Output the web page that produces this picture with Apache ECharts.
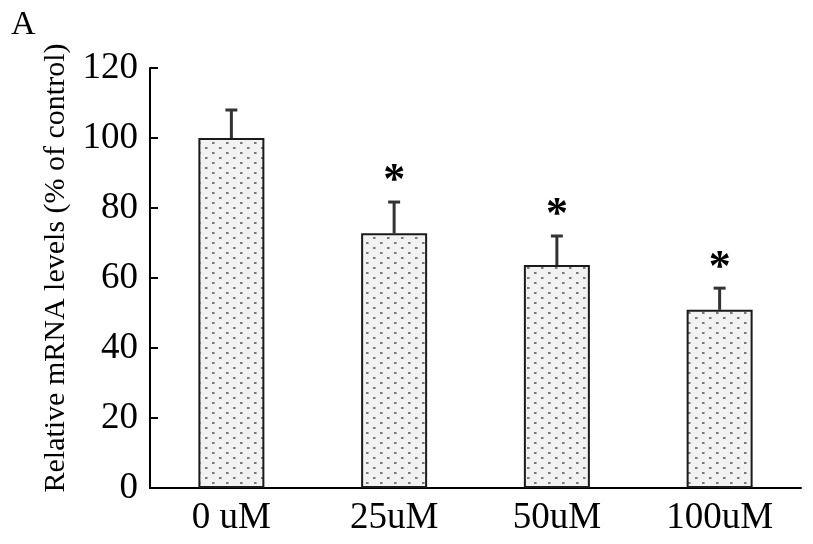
<!DOCTYPE html>
<html>
<head>
<meta charset="utf-8">
<script src="https://cdn.jsdelivr.net/npm/echarts@6/dist/echarts.min.js"></script>
<style>
html,body{margin:0;padding:0;background:#fff;}
#chart{width:813px;height:544px;}
</style>
</head>
<body>
<div id="chart"></div>
<script>
// ---- data ----
const categories = ['0 uM', '25uM', '50uM', '100uM'];
const means = [100, 72.8, 63.7, 50.9];
const errors = [8.0, 8.9, 8.3, 6.2];
const marks = ['', '*', '*', '*'];
const yAxisName = 'Relative mRNA levels (% of control)';
const panelLabel = 'A';

// ---- dotted fill pattern ----
const pc = document.createElement('canvas');
pc.width = 14; pc.height = 10;
const g = pc.getContext('2d');
g.fillStyle = '#f2f2f2';
g.fillRect(0, 0, 14, 10);
g.fillStyle = '#7a7a7a';
g.fillRect(2, 2, 2, 2);
g.fillRect(9, 7, 2, 2);
g.fillStyle = '#b0b0b0';
g.fillRect(4, 2, 1, 2);
g.fillRect(11, 7, 1, 2);

const serif = '"Liberation Serif", "Times New Roman", serif';
const chart = echarts.init(document.getElementById('chart'));

const errData = means.map((m, i) => [i, m, errors[i]]);

chart.setOption({
  animation: false,
  backgroundColor: '#fff',
  title: {
    text: panelLabel, left: 6, top: 3,
    textStyle: { fontFamily: serif, fontSize: 34, fontWeight: 'normal', color: '#000' }
  },
  grid: { left: 150, right: 12, top: 68, bottom: 56, containLabel: false },
  xAxis: {
    type: 'category',
    data: categories,
    boundaryGap: true,
    axisLine: { lineStyle: { color: '#000', width: 2 } },
    axisTick: { inside: true, length: 7, lineStyle: { color: '#000', width: 2 } },
    axisLabel: { fontFamily: serif, fontSize: 37, color: '#000', margin: 12 },
    splitLine: { show: false }
  },
  yAxis: {
    type: 'value',
    min: 0, max: 120, interval: 20,
    name: yAxisName,
    nameLocation: 'middle',
    nameGap: 67,
    nameRotate: 90,
    nameTextStyle: { fontFamily: serif, fontSize: 30, color: '#000', padding: [0, 0, 0, 20] },
    axisLine: { show: true, lineStyle: { color: '#000', width: 2 } },
    axisTick: { show: true, inside: true, length: 8, lineStyle: { color: '#000', width: 2 } },
    axisLabel: { fontFamily: serif, fontSize: 37, color: '#000', margin: 12 },
    splitLine: { show: false }
  },
  series: [
    {
      type: 'bar',
      data: means,
      barWidth: 66,
      itemStyle: {
        color: { image: pc, repeat: 'repeat' },
        borderColor: '#1a1a1a',
        borderWidth: 2
      },
      z: 2
    },
    {
      type: 'custom',
      data: errData,
      z: 3,
      renderItem: function (params, api) {
        const i = api.value(0), m = api.value(1), e = api.value(2);
        const mark = marks[params.dataIndex];
        const base = api.coord([i, m]);
        const top = api.coord([i, m + e]);
        const half = 6;
        const children = [
          { type: 'line', shape: { x1: base[0], y1: base[1], x2: top[0], y2: top[1] },
            style: { stroke: '#333', lineWidth: 3 } },
          { type: 'line', shape: { x1: top[0] - half, y1: top[1], x2: top[0] + half, y2: top[1] },
            style: { stroke: '#333', lineWidth: 3 } }
        ];
        if (mark) {
          children.push({
            type: 'text',
            style: {
              text: mark, x: top[0], y: top[1] + 2,
              align: 'center', verticalAlign: 'bottom',
              font: 'bold 44px ' + serif, fill: '#000'
            }
          });
        }
        return { type: 'group', children: children };
      }
    }
  ]
});
</script>
</body>
</html>
